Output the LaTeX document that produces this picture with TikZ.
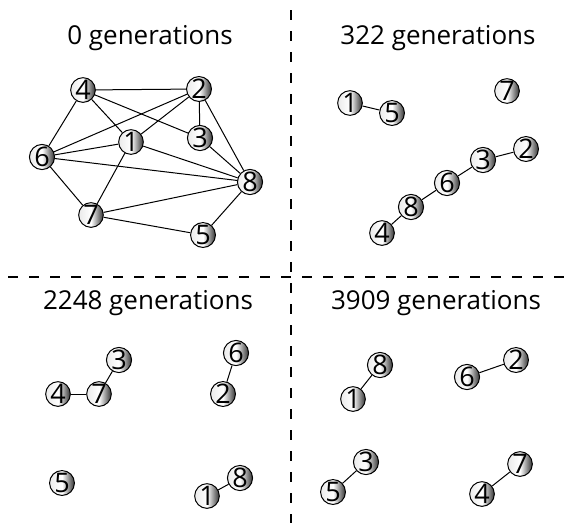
\documentclass[tikz,border=0pt]{standalone}
\usepackage{fontspec}
\setmainfont{Open Sans}
\begin{document}
\begin{tikzpicture}[x=1pt,y=-1pt,
  vtx/.style={circle,draw=black,line width=1pt,minimum size=24pt,inner sep=0pt,
    left color=black!8,right color=black!80,middle color=white,
    font=\fontsize{27}{27}\selectfont},
  link/.style={line width=1pt},
  title/.style={font=\fontsize{26}{26}\selectfont,anchor=base},
  divider/.style={line width=1.4pt,dash pattern=on 10pt off 11pt}]
\useasboundingbox (0,0) rectangle (572,523);

% quadrant dividers
\coordinate (vtop) at (291,10);
\coordinate (vbot) at (291,523);
\coordinate (hleft) at (8,277);
\coordinate (hright) at (572,277);
\draw[divider] (vtop) -- (vbot);
\draw[divider] (hleft) -- (hright);

% titles
\node[title] (t0) at (150,44) {0 generations};
\node[title] (t1) at (438,44) {322 generations};
\node[title] (t2) at (148,309) {2248 generations};
\node[title] (t3) at (436,309) {3909 generations};

% 0 generations
\begin{scope}[name prefix=a]
\node[vtx] (4) at (83,90) {4};
\node[vtx] (2) at (199,89) {2};
\node[vtx] (1) at (131,142) {1};
\node[vtx] (3) at (200,138) {3};
\node[vtx] (6) at (42,157) {6};
\node[vtx] (8) at (250,182) {8};
\node[vtx] (7) at (91,215) {7};
\node[vtx] (5) at (203,235) {5};
\end{scope}
\foreach \u/\v in {4/2,4/6,4/1,4/3,2/6,2/1,2/3,2/8,6/1,6/8,6/7,1/7,1/8,3/8,7/8,7/5,5/8}
  \draw[link] (a\u) -- (a\v);

% 322 generations
\begin{scope}[name prefix=b]
\node[vtx] (1) at (350,103) {1};
\node[vtx] (5) at (392,113) {5};
\node[vtx] (7) at (507,91) {7};
\node[vtx] (2) at (526,149) {2};
\node[vtx] (3) at (483,160) {3};
\node[vtx] (6) at (447,183) {6};
\node[vtx] (8) at (411,207) {8};
\node[vtx] (4) at (382,233) {4};
\end{scope}
\foreach \u/\v in {1/5,2/3,3/6,6/8,8/4}
  \draw[link] (b\u) -- (b\v);

% 2248 generations
\begin{scope}[name prefix=c]
\node[vtx] (3) at (119,360) {3};
\node[vtx] (4) at (58,394) {4};
\node[vtx] (7) at (99,394) {7};
\node[vtx] (6) at (236,353) {6};
\node[vtx] (2) at (223,394) {2};
\node[vtx] (5) at (62,483) {5};
\node[vtx] (1) at (207,496) {1};
\node[vtx] (8) at (240,478) {8};
\end{scope}
\foreach \u/\v in {3/7,4/7,6/2,8/1}
  \draw[link] (c\u) -- (c\v);

% 3909 generations
\begin{scope}[name prefix=d]
\node[vtx] (8) at (380,365) {8};
\node[vtx] (1) at (353,399) {1};
\node[vtx] (6) at (467,377) {6};
\node[vtx] (2) at (516,360) {2};
\node[vtx] (3) at (366,462) {3};
\node[vtx] (5) at (333,492) {5};
\node[vtx] (7) at (520,464) {7};
\node[vtx] (4) at (482,494) {4};
\end{scope}
\foreach \u/\v in {8/1,6/2,3/5,7/4}
  \draw[link] (d\u) -- (d\v);
\end{tikzpicture}
\end{document}
